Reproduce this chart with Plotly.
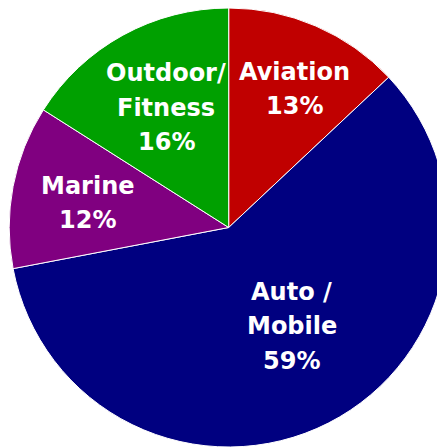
import math
import plotly.graph_objects as go

labels = ["Aviation", "Auto /<br>Mobile", "Marine", "Outdoor/<br>Fitness"]
values = [13, 59, 12, 16]
colors = ["#C00000", "#000080", "#800080", "#00A000"]

W, H = 445, 447
DOM_X = [0.0, 441.4 / 445]
DOM_Y = [1 - 439 / 447, 1.0]

# label placement: radius fraction and small angular tweak (deg) per slice
label_r = [0.70, 0.533, 0.651, 0.615]
label_dang = [2.1, -5.5, -0.9, 1.3]
LINE_GAP = 34.5

fig = go.Figure(go.Pie(
    labels=labels, values=values, sort=False, direction="clockwise",
    rotation=0, marker=dict(colors=colors, line=dict(color="white", width=1)),
    textinfo="none", hoverinfo="none", domain=dict(x=DOM_X, y=DOM_Y),
    showlegend=False,
))

# pie geometry (as plotly computes it)
bw = W * (DOM_X[1] - DOM_X[0])
bh = H * (DOM_Y[1] - DOM_Y[0])
r = min(bw, bh) / 2
cx = W * (DOM_X[0] + DOM_X[1]) / 2
cy = H * (1 - DOM_Y[0]) - bh / 2

total = sum(values)
cum = 0
for lab, v, rf, da in zip(labels, values, label_r, label_dang):
    mid = (cum + v / 2) / total * 360 + da
    cum += v
    px = cx + rf * r * math.sin(math.radians(mid))
    py = cy - rf * r * math.cos(math.radians(mid))
    pct = round(v / total * 100)
    lines = lab.split("<br>") + [f"{pct}%"]
    n = len(lines)
    for i, ln in enumerate(lines):
        ly = py + (i - (n - 1) / 2) * LINE_GAP
        fig.add_annotation(
            x=px / W, y=1 - ly / H, xref="paper", yref="paper",
            text=ln, showarrow=False,
            font=dict(family="DejaVu Sans", size=24, color="white", weight="bold"),
            xanchor="center", yanchor="middle",
        )

fig.update_layout(
    width=W, height=H, margin=dict(l=0, r=0, t=0, b=0),
    paper_bgcolor="white", plot_bgcolor="white",
)
fig.write_html("out.html")
